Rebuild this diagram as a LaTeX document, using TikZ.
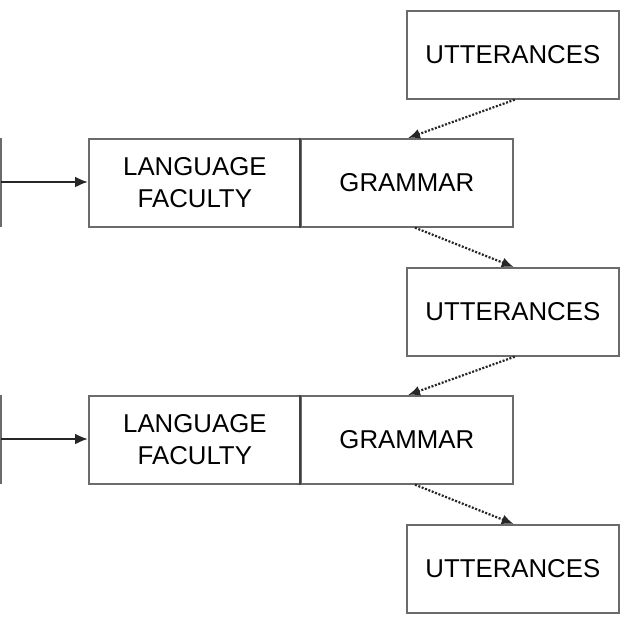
\documentclass[tikz,border=0pt]{standalone}
\usepackage{fontspec}
\setmainfont{Liberation Sans}
\usetikzlibrary{calc,arrows.meta}
\definecolor{edge}{gray}{0.42}
\begin{document}
\begin{tikzpicture}[x=1pt,y=-1pt,
  box/.style={draw=edge,line width=1.7pt,minimum width=212pt,minimum height=88pt,inner sep=0pt,align=center,font=\fontsize{25.8}{32}\selectfont,anchor=north west},
  solidarrow/.style={line width=2.2pt,draw=black!85,-{Latex[length=13pt,width=11pt]}},
  dotarrow/.style={line width=2.2pt,draw=black!85,dash pattern=on 2pt off 1.6pt,-{Latex[length=12pt,width=10pt]}},
  wall/.style={draw=edge,line width=1.9pt}]
\useasboundingbox (0,0) rectangle (624,622);
\node[box] (u1) at (406,10) {UTTERANCES};
\node[box] (lf1) at (88,138) {LANGUAGE\\FACULTY};
\node[box] (gr1) at (300,138) {GRAMMAR};
\node[box] (u2) at (406,267) {UTTERANCES};
\node[box] (lf2) at (88,395) {LANGUAGE\\FACULTY};
\node[box] (gr2) at (300,395) {GRAMMAR};
\node[box] (u3) at (406,524) {UTTERANCES};
\draw[line width=1.9pt,black!75] (gr1.north west) -- (gr1.south west);
\draw[line width=1.9pt,black!75] (gr2.north west) -- (gr2.south west);
\coordinate (w1a) at (1,138);
\coordinate (w1b) at (1,227);
\coordinate (w2a) at (1,395);
\coordinate (w2b) at (1,484);
\draw[wall] (w1a) -- (w1b);
\draw[wall] (w2a) -- (w2b);
\coordinate (s1) at (1,182);
\coordinate (s2) at (1,439);
\draw[solidarrow] (s1) -- (s1 -| lf1.west);
\draw[solidarrow] (s2) -- (s2 -| lf2.west);
\draw[dotarrow] ($(u1.south -| gr1.east)+(1,0)$) -- ($(gr1.north -| u1.west)+(2,0)$);
\draw[dotarrow] ($(gr1.south -| u2.west)+(9,0)$) -- ($(u2.north -| gr1.east)+(0,0)$);
\draw[dotarrow] ($(u2.south -| gr2.east)+(1,0)$) -- ($(gr2.north -| u2.west)+(2,0)$);
\draw[dotarrow] ($(gr2.south -| u3.west)+(9,0)$) -- ($(u3.north -| gr2.east)+(0,0)$);
\end{tikzpicture}
\end{document}
